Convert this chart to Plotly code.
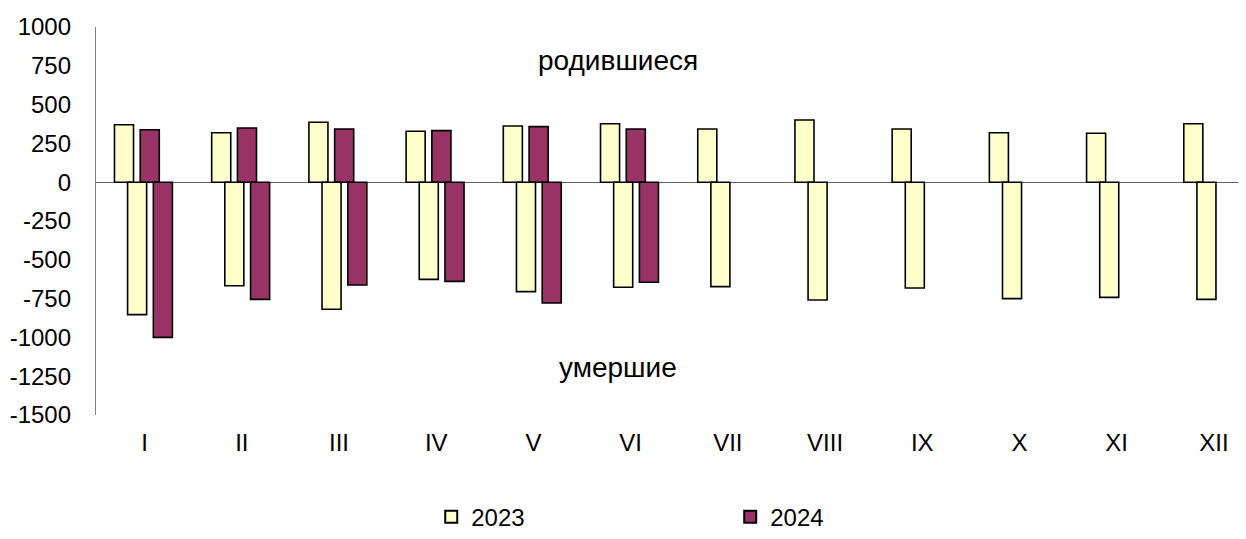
import plotly.graph_objects as go

months = ["I", "II", "III", "IV", "V", "VI", "VII", "VIII", "IX", "X", "XI", "XII"]
births_2023 = [370, 319, 386, 328, 362, 377, 343, 401, 343, 319, 315, 377]
deaths_2023 = [-853, -667, -819, -626, -705, -677, -673, -759, -682, -750, -742, -755]
births_2024 = [338, 349, 343, 332, 358, 343]
deaths_2024 = [-1000, -755, -662, -639, -778, -645]

y_ticks = [1000, 750, 500, 250, 0, -250, -500, -750, -1000, -1250, -1500]

YELLOW = "#FFFFCC"
PURPLE = "#993366"
FONT = "Liberation Sans, Arial, sans-serif"
W = 0.196
line = dict(color="#000000", width=1.6)

fig = go.Figure()
fig.add_trace(go.Bar(x=months, y=births_2023, name="2023", legendgroup="2023",
                     marker=dict(color=YELLOW, line=line), width=W, offset=-0.31))
fig.add_trace(go.Bar(x=months[:len(births_2024)], y=births_2024, name="2024", legendgroup="2024",
                     marker=dict(color=PURPLE, line=line), width=W, offset=-0.045))
fig.add_trace(go.Bar(x=months, y=deaths_2023, name="2023", legendgroup="2023", showlegend=False,
                     marker=dict(color=YELLOW, line=line), width=W, offset=-0.175))
fig.add_trace(go.Bar(x=months[:len(deaths_2024)], y=deaths_2024, name="2024", legendgroup="2024",
                     showlegend=False, marker=dict(color=PURPLE, line=line), width=W, offset=0.09))

fig.add_annotation(text="родившиеся", x=0.454, xref="paper", y=787, yref="y",
                   showarrow=False, font=dict(size=28, color="#000000", family=FONT))
fig.add_annotation(text="умершие", x=0.454, xref="paper", y=-1197, yref="y",
                   showarrow=False, font=dict(size=28, color="#000000", family=FONT))

fig.update_layout(
    width=1246, height=539,
    margin=dict(l=88, r=8, t=19, b=132, autoexpand=False),
    paper_bgcolor="white", plot_bgcolor="white",
    barmode="overlay",
    font=dict(family=FONT, size=24, color="#000000"),
    showlegend=True,
    legend=dict(orientation="h", x=0.2915, xanchor="left", y=-0.263, yanchor="middle",
                entrywidth=254, entrywidthmode="pixels", font=dict(size=24),
                itemsizing="constant", traceorder="normal"),
    xaxis=dict(type="category", categoryorder="array", categoryarray=months,
               range=[-0.5, 11.33], showgrid=False, showline=False, zeroline=False,
               automargin=False,
               ticks="", ticklabelstandoff=11, tickfont=dict(size=24)),
    yaxis=dict(range=[-1500, 1000], tickvals=y_ticks, ticktext=[str(v) for v in y_ticks],
               showgrid=False, showline=True, linecolor="#808080", linewidth=1.3,
               zeroline=True, zerolinecolor="#606060", zerolinewidth=1.3,
               automargin=False,
               ticks="", ticklabelstandoff=19, tickfont=dict(size=24)),
)

fig.write_html("out.html")
